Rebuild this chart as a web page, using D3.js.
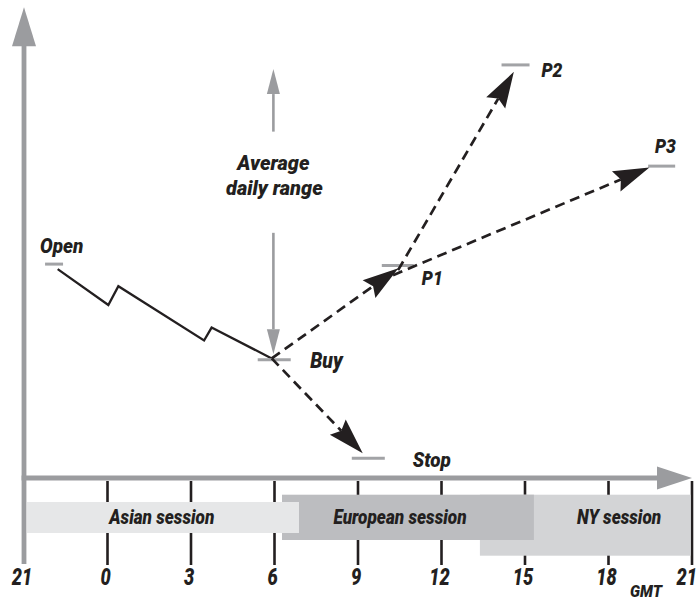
<!DOCTYPE html>
<html>
<head>
<meta charset="utf-8">
<script src="https://cdn.jsdelivr.net/npm/d3@7/dist/d3.min.js"></script>
<style>
  html, body { margin: 0; padding: 0; background: #ffffff; }
  svg { display: block; }
  text { font-family: Roboto, "Liberation Sans", Arial, sans-serif; font-weight: 900; font-style: italic; fill: #231f20; }
</style>
</head>
<body>
<svg id="chart" width="698" height="610"></svg>
<script>
// ---------------- DATA ----------------
// x = hours elapsed since 21:00 GMT (0..24), y = price (arbitrary units)
const hourTicks  = [0, 3, 6, 9, 12, 15, 18, 21, 24];
const tickLabels = ["21", "0", "3", "6", "9", "12", "15", "18", "21"];
const axisUnit   = "GMT";

// Price path from the open down to the buy level
const priceHours  = [1.21, 3.03, 3.39, 6.47, 6.74, 8.90];
const priceValues = [45.4, 37.6, 41.7, 29.9, 32.7, 26.0];

// Price levels (grey markers)
const levelNames  = ["Open", "Buy", "P1", "P2", "P3", "Stop"];
const levelHours  = [1.08, 8.99, 13.43, 17.66, 22.91, 12.37];
const levelValues = [46.5, 25.7, 46.2, 89.8, 67.8, 4.3];

// Projected moves (dashed arrows)
const arrowNames      = ["P1", "P2", "P3", "Stop"];
const arrowFromHours  = [8.90, 13.44, 13.26, 8.90];
const arrowFromValues = [26.0, 45.2, 44.1, 26.0];
const arrowToHours    = [13.45, 17.60, 22.47, 12.17];
const arrowToValues   = [45.6, 88.3, 67.5, 5.4];

// Average daily range annotation
const rangeLabel = ["Average", "daily range"];
const rangeHour  = 8.96;
const rangeUp    = [75.3, 88.9];
const rangeDown  = [53.3, 26.9];

// Trading sessions (drawn back to front)
const sessionNames      = ["NY session", "European session", "Asian session"];
const sessionStart      = [16.38, 9.27, 0.11];
const sessionEnd        = [23.95, 18.32, 9.88];
const sessionLabelHours = [21.38, 13.51, 4.95];

// ---------------- LAYOUT / STYLE ----------------
const W = 698, H = 610;
const axisY = 478;
const x = d3.scaleLinear().domain([0, 24]).range([24, 692]);
const y = d3.scaleLinear().domain([0, 100]).range([axisY, 18]);

const grey = "#9b9c9f", ink = "#231f20";
const sessionFill = ["#d3d4d6", "#bcbdc0", "#e6e7e8"];
const sessionBand = [[494.7, 555.7], [494.7, 540], [502, 533]];
const levelWidth  = {Open: 18, Buy: 33, P1: 32, P2: 28, P3: 27, Stop: 33};
const labelOffset = {Open: [-14, -11, 21], Buy: [36, 8, 21.5], P1: [24, 19.3, 19.5], P2: [26, 11.7, 19.5], P3: [-6.7, -12.7, 19.5], Stop: [44.4, 8.4, 21]};

const svg = d3.select("#chart");

function label(g, txt, px, py, size, sx, anchor) {
  return g.append("text")
    .attr("transform", `translate(${px},${py}) scale(${sx},1)`)
    .attr("text-anchor", anchor || "start")
    .style("font-size", size + "px")
    .text(txt);
}

function arrowHead(g, x0, y0, x1, y1, L, w, notch, fill) {
  const dx = x1 - x0, dy = y1 - y0, len = Math.hypot(dx, dy);
  const ux = dx / len, uy = dy / len, nx = -uy, ny = ux;
  const bx = x1 - L * ux, by = y1 - L * uy;
  const pts = [[x1, y1], [bx + nx * w / 2, by + ny * w / 2], [bx + ux * notch, by + uy * notch], [bx - nx * w / 2, by - ny * w / 2]];
  g.append("path").attr("d", "M" + pts.map(p => p.join(",")).join("L") + "Z").attr("fill", fill);
  return [bx + ux * notch, by + uy * notch];
}

// ---------------- TICKS (behind sessions) ----------------
const gTicks = svg.append("g");
gTicks.selectAll("line").data(hourTicks.slice(1)).join("line")
  .attr("x1", d => x(d)).attr("x2", d => x(d))
  .attr("y1", axisY + 3).attr("y2", 565)
  .attr("stroke", ink).attr("stroke-width", 2.6);

// ---------------- SESSIONS ----------------
const gSess = svg.append("g");
sessionNames.forEach((s, i) => {
  gSess.append("rect")
    .attr("x", x(sessionStart[i])).attr("width", x(sessionEnd[i]) - x(sessionStart[i]))
    .attr("y", sessionBand[i][0]).attr("height", sessionBand[i][1] - sessionBand[i][0])
    .attr("fill", sessionFill[i]);
});
sessionNames.forEach((s, i) => {
  label(gSess, s, x(sessionLabelHours[i]), 524, 20, 0.86, "middle");
});

// ---------------- AXES ----------------
const gAx = svg.append("g");
gAx.append("line").attr("x1", x(0)).attr("x2", x(0)).attr("y1", 564).attr("y2", 40)
  .attr("stroke", grey).attr("stroke-width", 4.8);
arrowHead(gAx, x(0), 100, x(0), 7.3, 39, 24, 0, grey);
gAx.append("line").attr("x1", x(0) - 2.4).attr("x2", x(24) - 30).attr("y1", axisY).attr("y2", axisY)
  .attr("stroke", grey).attr("stroke-width", 4.8);
arrowHead(gAx, 600, axisY, x(24), axisY, 35, 23, 0, grey);

// tick labels
hourTicks.forEach((h, i) => {
  const last = i === hourTicks.length - 1;
  label(gAx, tickLabels[i], last ? W - 1 : x(h) - 2, 585, 24, 0.76, last ? "end" : "middle");
});
label(gAx, axisUnit, 646, 596.7, 16.5, 0.92, "middle");

// ---------------- PRICE PATH ----------------
const line = d3.line().x((d, i) => x(priceHours[i])).y((d, i) => y(priceValues[i]));
svg.append("path").attr("d", line(priceHours)).attr("fill", "none")
  .attr("stroke", ink).attr("stroke-width", 2.3).attr("stroke-linejoin", "miter");

// ---------------- AVERAGE DAILY RANGE ----------------
const gR = svg.append("g");
[rangeUp, rangeDown].forEach(r => {
  const x0 = x(rangeHour), y0 = y(r[0]), y1 = y(r[1]);
  const base = arrowHead(gR, x0, y0, x0, y1, 25, 13, 0, grey);
  gR.append("line").attr("x1", x0).attr("x2", x0).attr("y1", y0).attr("y2", base[1])
    .attr("stroke", grey).attr("stroke-width", 2.6);
});
label(gR, rangeLabel[0], x(rangeHour), 170, 21, 0.95, "middle");
label(gR, rangeLabel[1], x(rangeHour) + 1, 195, 21, 0.95, "middle");

// ---------------- LEVEL MARKERS ----------------
const gL = svg.append("g");
levelNames.forEach((n, i) => {
  const cx = x(levelHours[i]), cy = y(levelValues[i]), w = levelWidth[n];
  gL.append("line").attr("x1", cx - w / 2).attr("x2", cx + w / 2).attr("y1", cy).attr("y2", cy)
    .attr("stroke", "#a2a3a6").attr("stroke-width", 3);
  const o = labelOffset[n];
  label(gL, n, cx + o[0], cy + o[1], o[2], 0.9, "start");
});

// ---------------- DASHED ARROWS ----------------
const gA = svg.append("g");
arrowNames.forEach((n, i) => {
  const x0 = x(arrowFromHours[i]), y0 = y(arrowFromValues[i]);
  const x1 = x(arrowToHours[i]), y1 = y(arrowToValues[i]);
  const base = arrowHead(gA, x0, y0, x1, y1, 36, 22, 5, ink);
  gA.append("line").attr("x1", x0).attr("y1", y0).attr("x2", base[0]).attr("y2", base[1])
    .attr("stroke", ink).attr("stroke-width", 2.7).attr("stroke-dasharray", "10,6");
});
</script>
</body>
</html>
